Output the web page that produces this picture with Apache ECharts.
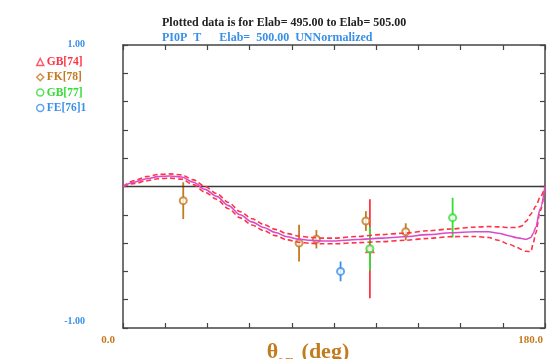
<!DOCTYPE html>
<html><head><meta charset="utf-8">
<script src="https://cdn.jsdelivr.net/npm/echarts@6/dist/echarts.min.js"></script>
<style>html,body{margin:0;padding:0;background:#fff;}#c{width:550px;height:359px;}</style>
</head><body><div id="c"></div>
<script>
// ---- data ----
const titleText = 'Plotted data is for Elab= 495.00 to Elab= 505.00';
const subText = 'PI0P  T      Elab=  500.00  UNNormalized';
const xTickLabels = { 0: '0.0', 180: '180.0' };
const yTickLabels = { '1': '1.00', '-1': '-1.00' };

const curveTheta = [0, 5, 10, 15, 20, 25, 30, 35, 40, 45, 50, 55, 60, 65, 70, 75, 80, 85, 90, 100, 110, 120, 130, 140, 150, 156, 160, 165, 168, 170, 172, 174, 175, 176, 178, 180];
const fitCenter = [0, 0.032, 0.055, 0.07, 0.074, 0.067, 0.03, -0.02, -0.07, -0.135, -0.2, -0.25, -0.29, -0.325, -0.355, -0.372, -0.38, -0.385, -0.385, -0.375, -0.365, -0.355, -0.34, -0.327, -0.32, -0.32, -0.33, -0.35, -0.362, -0.368, -0.373, -0.36, -0.33, -0.29, -0.155, 0];
const fitUpper = [0, 0.042, 0.07, 0.085, 0.089, 0.082, 0.047, 0.0, -0.05, -0.113, -0.178, -0.228, -0.268, -0.303, -0.333, -0.35, -0.36, -0.365, -0.365, -0.353, -0.34, -0.33, -0.313, -0.3, -0.287, -0.283, -0.285, -0.29, -0.29, -0.28, -0.245, -0.195, -0.166, -0.14, -0.075, 0];
const fitLower = [0, 0.022, 0.04, 0.055, 0.059, 0.052, 0.013, -0.04, -0.09, -0.157, -0.222, -0.272, -0.312, -0.347, -0.377, -0.394, -0.402, -0.405, -0.405, -0.397, -0.39, -0.38, -0.367, -0.354, -0.353, -0.36, -0.38, -0.41, -0.43, -0.445, -0.458, -0.46, -0.4, -0.33, -0.17, 0];

// [theta, value, error]
const gb74 = [[105.3, -0.44, 0.35]];
const fk78 = [[25.7, -0.10, 0.13], [75.1, -0.40, 0.13], [82.5, -0.373, 0.065], [103.6, -0.244, 0.07], [120.6, -0.32, 0.06]];
const gb77 = [[105.3, -0.44, 0.155], [140.6, -0.22, 0.14]];
const fe76 = [[92.8, -0.60, 0.07]];

const C = { red: '#ff3344', brown: '#c37b1f', green: '#33dd33', blue: '#3a90e8', magenta: '#d84cc8', axis: '#444444' };
const FONT = '"Liberation Serif", "DejaVu Serif", serif';

function zip(xs, ys) { return xs.map((x, i) => [x, ys[i]]); }

function errSeries(name, data, color) {
  return {
    type: 'custom', name: name + '_err', data: data, encode: { x: 0, y: 1 }, silent: true,
    renderItem: function (params, api) {
      const x = api.value(0), y = api.value(1), e = api.value(2);
      const p1 = api.coord([x, y + e]), p2 = api.coord([x, y - e]);
      return { type: 'line', shape: { x1: p1[0], y1: p1[1], x2: p2[0], y2: p2[1] }, style: { stroke: color, lineWidth: 1.8 } };
    }
  };
}
function ptSeries(name, data, color, symbol) {
  return {
    type: 'scatter', name: name, data: data.map(d => [d[0], d[1]]), symbol: symbol, symbolSize: 7,
    itemStyle: { color: color, borderColor: color, borderWidth: 1.5 }
  };
}

const axisCommon = {
  axisLine: { show: true, onZero: false, lineStyle: { color: C.axis, width: 1.5 } },
  axisTick: { show: true, inside: true, length: 5, lineStyle: { color: C.axis, width: 1.2 } },
  splitLine: { show: false }
};

const chart = echarts.init(document.getElementById('c'), null, { renderer: 'canvas' });
chart.setOption({
  animation: false,
  backgroundColor: '#fff',
  title: {
    text: titleText, subtext: subText, left: 157, top: 12, itemGap: 3,
    textStyle: { fontFamily: FONT, fontSize: 12, fontWeight: 'bold', color: '#222' },
    subtextStyle: { fontFamily: FONT, fontSize: 12, fontWeight: 'bold', color: C.blue }
  },
  legend: {
    orient: 'vertical', left: 31, top: 51, itemWidth: 7, itemHeight: 7, itemGap: 3.3,
    textStyle: { fontFamily: FONT, fontSize: 11.5, fontWeight: 'bold', padding: [0, 0, 0, -2] },
    data: [
      { name: 'GB[74]', icon: 'triangle', textStyle: { color: C.red } },
      { name: 'FK[78]', icon: 'diamond', textStyle: { color: C.brown } },
      { name: 'GB[77]', icon: 'circle', textStyle: { color: C.green } },
      { name: 'FE[76]1', icon: 'circle', textStyle: { color: C.blue } }
    ],
    itemStyle: { color: '#fff', borderWidth: 1.5 }
  },
  grid: { left: 123, right: 5, top: 45, bottom: 31, containLabel: false, outerBoundsMode: 'none' },
  xAxis: [
    Object.assign({
      type: 'value', min: 0, max: 180, interval: 18, position: 'bottom',
      axisLabel: {
        show: true, margin: 7, align: 'right',
        formatter: v => (v in xTickLabels ? (v === 0 ? '{a|' + xTickLabels[v] + '}' : '{b|' + xTickLabels[v] + '}') : ''),
        rich: {
          a: { fontFamily: FONT, fontSize: 11, fontWeight: 'bold', color: C.brown, padding: [0, 8, 0, 0] },
          b: { fontFamily: FONT, fontSize: 11, fontWeight: 'bold', color: C.brown, padding: [0, 2, 0, 0] }
        }
      },
      name: '{t|θ}{s|c.m.}{t| (deg)}', nameLocation: 'middle', nameGap: 13, nameMoveOverlap: false,
      nameTextStyle: {
        padding: [0, 52, 0, 0], verticalAlign: 'top',
        rich: {
          t: { fontFamily: FONT, fontSize: 22, lineHeight: 24, fontWeight: 'bold', color: C.brown, verticalAlign: 'top' },
          s: { fontFamily: FONT, fontSize: 10, lineHeight: 10, fontWeight: 'bold', color: C.brown, verticalAlign: 'bottom' }
        }
      }
    }, axisCommon),
    Object.assign({ type: 'value', min: 0, max: 180, interval: 18, position: 'top', axisLabel: { show: false } }, axisCommon)
  ],
  yAxis: [
    Object.assign({
      type: 'value', min: -1, max: 1, interval: 0.2, position: 'left',
      axisLabel: {
        show: true, margin: 38,
        formatter: v => {
          const k = Math.abs(v - 1) < 1e-6 ? '1' : (Math.abs(v + 1) < 1e-6 ? '-1' : null);
          if (!k) return '';
          return k === '1' ? '{p|' + yTickLabels[k] + '}' : '{n|' + yTickLabels[k] + '}';
        },
        rich: {
          p: { fontFamily: FONT, fontSize: 10, fontWeight: 'bold', color: C.blue, padding: [0, 0, 2, 0] },
          n: { fontFamily: FONT, fontSize: 10, fontWeight: 'bold', color: C.blue, padding: [0, 0, 14, 0] }
        }
      }
    }, axisCommon),
    Object.assign({ type: 'value', min: -1, max: 1, interval: 0.2, position: 'right', axisLabel: { show: false } }, axisCommon)
  ],
  series: [
    {
      type: 'line', name: 'zero', data: [[0, 0], [180, 0]], symbol: 'none', silent: true,
      lineStyle: { color: '#3a3a3a', width: 1.5 }
    },
    { type: 'line', name: 'upper', data: zip(curveTheta, fitUpper), symbol: 'none', smooth: 0.3, smoothMonotone: 'x', silent: true, lineStyle: { color: C.red, width: 1.6, type: [5, 3] } },
    { type: 'line', name: 'lower', data: zip(curveTheta, fitLower), symbol: 'none', smooth: 0.3, smoothMonotone: 'x', silent: true, lineStyle: { color: C.red, width: 1.6, type: [5, 3] } },
    { type: 'line', name: 'fit', data: zip(curveTheta, fitCenter), symbol: 'none', smooth: 0.3, smoothMonotone: 'x', silent: true, lineStyle: { color: C.magenta, width: 1.6 } },
    errSeries('FK[78]', fk78, C.brown),
    errSeries('FE[76]1', fe76, C.blue),
    errSeries('GB[74]', gb74, C.red),
    ptSeries('GB[74]', gb74, C.red, 'emptyTriangle'),
    errSeries('GB[77]', gb77, C.green),
    ptSeries('FK[78]', fk78, C.brown, 'emptyCircle'),
    ptSeries('FE[76]1', fe76, C.blue, 'emptyCircle'),
    ptSeries('GB[77]', gb77, C.green, 'emptyCircle')
  ]
});
</script></body></html>
